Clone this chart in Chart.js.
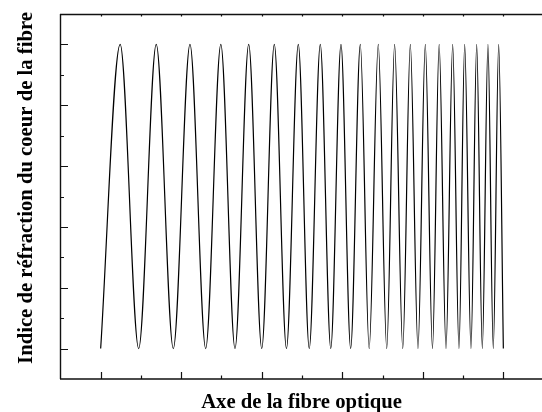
<!DOCTYPE html>
<html>
<head>
<meta charset="utf-8">
<script src="https://cdn.jsdelivr.net/npm/chart.js@4/dist/chart.umd.min.js"></script>
<style>
  html, body { margin: 0; padding: 0; background: #fff; }
  canvas { display: block; }
</style>
</head>
<body>
<canvas id="chart" width="542" height="412"></canvas>
<script>
// positions of the minima / maxima along the fibre axis
const fibreX = [0, 0.242, 0.472, 0.69, 0.902, 1.109, 1.304, 1.492, 1.668, 1.838,
  2.0, 2.156, 2.307, 2.454, 2.59, 2.727, 2.857, 2.984, 3.104, 3.224,
  3.334, 3.447, 3.552, 3.65, 3.751, 3.845, 3.94, 4.031, 4.12, 4.203,
  4.288, 4.371, 4.449, 4.52, 4.598, 4.669, 4.739, 4.809, 4.875, 4.942, 5.0];
// index level at each of these points (0 = low, 1 = high)
const indexLevel = [0, 1, 0, 1, 0, 1, 0, 1, 0, 1,
  0, 1, 0, 1, 0, 1, 0, 1, 0, 1,
  0, 1, 0, 1, 0, 1, 0, 1, 0, 1,
  0, 1, 0, 1, 0, 1, 0, 1, 0, 1, 0];

const xMajorTicks = [0, 1, 2, 3, 4, 5];
const xMinorTicks = [0.5, 1.5, 2.5, 3.5, 4.5];
const yMajorTicks = [0, 0.2, 0.4, 0.6, 0.8, 1.0];
const yMinorTicks = [0.1, 0.3, 0.5, 0.7, 0.9];

const xTitle = "Axe de la fibre optique";
const yTitle = "Indice de réfraction du coeur de la fibre";

const points = fibreX.map((x, i) => ({ x: x, y: indexLevel[i] }));

// frame, inward ticks and axis titles, drawn from the chart's scales
const framePlugin = {
  id: "frame",
  afterDraw(chart) {
    const ctx = chart.ctx;
    const area = chart.chartArea;
    const xs = chart.scales.x;
    const ys = chart.scales.y;
    ctx.save();
    ctx.strokeStyle = "#111";
    ctx.lineWidth = 1.4;
    ctx.beginPath();
    ctx.moveTo(area.left + 0.5, area.top);
    ctx.lineTo(area.left + 0.5, area.bottom);
    ctx.moveTo(area.left, area.top + 0.5);
    ctx.lineTo(area.right, area.top + 0.5);
    ctx.moveTo(area.left, area.bottom);
    ctx.lineTo(area.right, area.bottom);
    ctx.stroke();

    ctx.lineWidth = 1.2;
    ctx.beginPath();
    xMajorTicks.forEach((v) => {
      const px = Math.round(xs.getPixelForValue(v)) + 0.5;
      ctx.moveTo(px, area.bottom);
      ctx.lineTo(px, area.bottom - 7);
      ctx.moveTo(px, area.top);
      ctx.lineTo(px, area.top + 2.5);
    });
    xMinorTicks.forEach((v) => {
      const px = Math.round(xs.getPixelForValue(v)) + 0.5;
      ctx.moveTo(px, area.bottom);
      ctx.lineTo(px, area.bottom - 3.5);
      ctx.moveTo(px, area.top);
      ctx.lineTo(px, area.top + 2.5);
    });
    yMajorTicks.forEach((v) => {
      const py = Math.round(ys.getPixelForValue(v)) + 0.5;
      ctx.moveTo(area.left, py);
      ctx.lineTo(area.left + 8, py);
    });
    yMinorTicks.forEach((v) => {
      const py = Math.round(ys.getPixelForValue(v)) + 0.5;
      ctx.moveTo(area.left, py);
      ctx.lineTo(area.left + 4, py);
    });
    ctx.stroke();

    ctx.fillStyle = "#000";
    ctx.font = "bold 20.7px 'Liberation Serif', 'DejaVu Serif', serif";
    ctx.textAlign = "center";
    ctx.textBaseline = "alphabetic";
    ctx.fillText(xTitle, 301.5, 407.5);

    ctx.translate(32, 188);
    ctx.rotate(-Math.PI / 2);
    ctx.fillText(yTitle, 0, 0);
    ctx.restore();
  }
};

new Chart(document.getElementById("chart"), {
  type: "line",
  data: {
    datasets: [{
      data: points,
      borderColor: "#000",
      borderWidth: 1.2,
      pointRadius: 0,
      fill: false,
      cubicInterpolationMode: "monotone"
    }]
  },
  options: {
    responsive: false,
    animation: false,
    devicePixelRatio: 1,
    layout: { padding: { left: 60, top: 14, right: 0, bottom: 33 } },
    plugins: {
      legend: { display: false },
      tooltip: { enabled: false }
    },
    scales: {
      x: { type: "linear", min: -0.505, max: 5.48, display: false },
      y: { type: "linear", min: -0.1, max: 1.1, display: false }
    }
  },
  plugins: [framePlugin]
});
</script>
</body>
</html>
